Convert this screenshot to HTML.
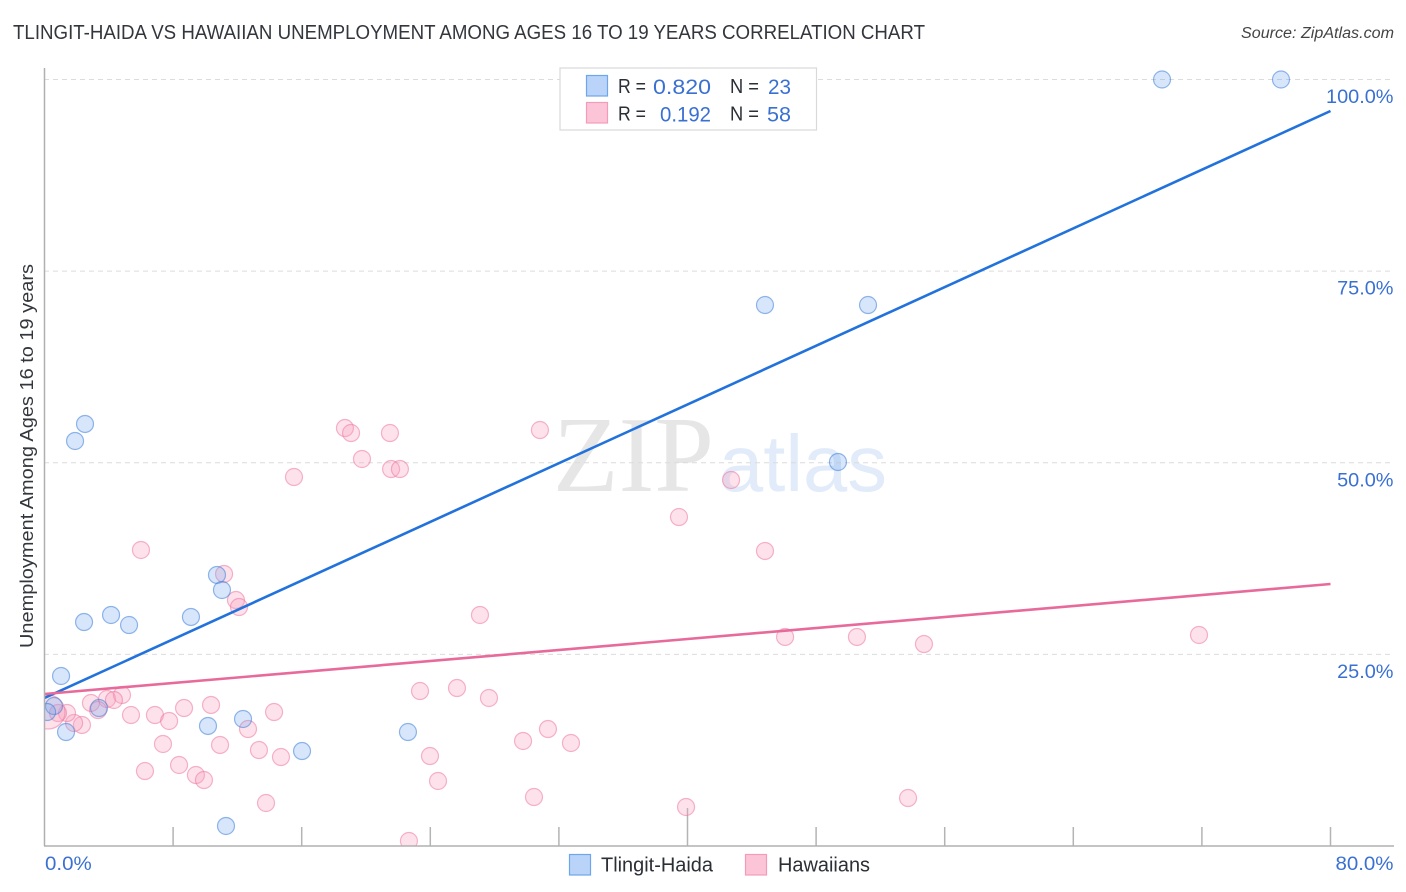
<!DOCTYPE html>
<html>
<head>
<meta charset="utf-8">
<title>Tlingit-Haida vs Hawaiian Unemployment Correlation Chart</title>
<style>
html,body{margin:0;padding:0;background:#fff;width:1406px;height:892px;overflow:hidden}
svg{display:block;font-family:"Liberation Sans",sans-serif}
</style>
</head>
<body>
<svg id="chart" width="1406" height="892" viewBox="0 0 1406 892" xmlns="http://www.w3.org/2000/svg">
  <defs>
    <clipPath id="plot-clip"><rect x="44.5" y="60" width="1362" height="786"/></clipPath>
  </defs>
  <rect width="1406" height="892" fill="#fff"/>
  <text x="13" y="39" font-size="20" fill="#33373d" textLength="912" lengthAdjust="spacingAndGlyphs">TLINGIT-HAIDA VS HAWAIIAN UNEMPLOYMENT AMONG AGES 16 TO 19 YEARS CORRELATION CHART</text>
  <text x="1241" y="38" font-size="15.5" font-style="italic" fill="#444" textLength="153" lengthAdjust="spacingAndGlyphs">Source: ZipAtlas.com</text>
  <g>
    <text x="553" y="491" font-family="'Liberation Serif',serif" font-size="108" fill="#e6e6e6" textLength="161" lengthAdjust="spacingAndGlyphs">ZIP</text>
    <text x="719" y="491" font-size="80" fill="#e1ebf9" textLength="168" lengthAdjust="spacingAndGlyphs">atlas</text>
  </g>
  <g id="grid"></g>
  <g id="x-ticks"></g>
  <g id="points" clip-path="url(#plot-clip)"></g>
  <g id="trends"></g>
  <line x1="44.5" y1="68" x2="44.5" y2="846" stroke="#b0b0b0" stroke-width="1.5"/>
  <line x1="44" y1="846" x2="1394" y2="846" stroke="#b0b0b0" stroke-width="1.5"/>
  <g id="y-labels"></g>
  <g id="x-labels"></g>
  <text transform="translate(33,648) rotate(-90)" font-size="18.5" fill="#33373d" textLength="384" lengthAdjust="spacingAndGlyphs">Unemployment Among Ages 16 to 19 years</text>

  <g>
    <rect x="560" y="68" width="256.5" height="62" fill="#fff" stroke="#d9d9d9" stroke-width="1.2"/>
    <rect x="586.5" y="75.5" width="21" height="20.5" fill="#b9d4f8" stroke="#6fa5ea" stroke-width="1.2"/>
    <rect x="586.5" y="102.5" width="21" height="20.5" fill="#fcc5d7" stroke="#f39cba" stroke-width="1.2"/>
    <g font-size="20.5" fill="#2b2f36">
      <text x="618" y="93" textLength="28" lengthAdjust="spacingAndGlyphs">R =</text>
      <text x="730" y="93" textLength="29" lengthAdjust="spacingAndGlyphs">N =</text>
      <text x="618" y="120.5" textLength="28" lengthAdjust="spacingAndGlyphs">R =</text>
      <text x="730" y="120.5" textLength="29" lengthAdjust="spacingAndGlyphs">N =</text>
    </g>
    <g font-size="21.5" fill="#3a70d2">
      <text x="653" y="94" textLength="58" lengthAdjust="spacingAndGlyphs">0.820</text>
      <text x="768" y="94" textLength="23" lengthAdjust="spacingAndGlyphs">23</text>
      <text x="660" y="121.5" textLength="51" lengthAdjust="spacingAndGlyphs">0.192</text>
      <text x="767" y="121.5" textLength="24" lengthAdjust="spacingAndGlyphs">58</text>
    </g>
  </g>

  <g>
    <rect x="569.5" y="854.5" width="21" height="20.5" fill="#b9d4f8" stroke="#6fa5ea" stroke-width="1.2"/>
    <text x="601" y="871.5" font-size="20" fill="#2b2f36" textLength="112" lengthAdjust="spacingAndGlyphs">Tlingit-Haida</text>
    <rect x="745.5" y="854.5" width="21" height="20.5" fill="#fcc5d7" stroke="#f39cba" stroke-width="1.2"/>
    <text x="778" y="871.5" font-size="20" fill="#2b2f36" textLength="92" lengthAdjust="spacingAndGlyphs">Hawaiians</text>
  </g>
</svg>
<script>
const yTickValues = [25, 50, 75, 100];
const yTickLabels = ["25.0%", "50.0%", "75.0%", "100.0%"];
const xTickValues = [0, 8, 16, 24, 32, 40, 48, 56, 64, 72, 80];
const xEndValues = [0, 80];
const xEndLabels = ["0.0%", "80.0%"];

const tlingitX = [69.52, 76.92, 44.82, 51.23, 49.36, 2.52, 1.90, 10.73, 11.04, 9.11, 4.14, 2.46, 5.26, 1.03, 3.39, 12.35, 10.17, 1.34, 22.61, 16.02, 11.29, 0.59, 0.16];
const tlingitY = [100, 100, 70.58, 70.58, 50.10, 55.06, 52.84, 35.36, 33.40, 29.88, 30.14, 29.22, 28.83, 22.18, 18.00, 16.57, 15.66, 14.87, 14.87, 12.39, 2.61, 18.26, 17.48];

const hawaiianX = [18.69, 19.07, 21.49, 30.82, 19.75, 21.56, 22.11, 15.52, 42.71, 39.47, 6.00, 44.82, 11.17, 11.91, 12.10, 27.09, 46.07, 50.54, 54.71, 71.82, 23.36, 25.66, 27.65, 2.89, 3.89, 4.82, 4.32, 3.33, 5.38, 6.87, 7.75, 8.68, 10.36, 12.66, 14.28, 7.37, 10.92, 13.34, 14.71, 6.25, 8.37, 9.42, 9.92, 13.78, 2.33, 1.84, 1.40, 29.77, 31.32, 32.75, 23.98, 24.48, 30.45, 39.91, 53.72, 22.67, 0.84, 0.22];
const hawaiianY = [54.53, 53.88, 53.88, 54.27, 50.49, 49.18, 49.18, 48.14, 47.75, 42.92, 38.62, 38.49, 35.49, 32.09, 31.18, 30.14, 27.27, 27.27, 26.35, 27.53, 20.22, 20.61, 19.31, 18.66, 19.18, 19.70, 19.05, 17.74, 17.09, 17.09, 16.31, 18.00, 18.40, 15.26, 17.48, 13.31, 13.18, 12.52, 11.61, 9.78, 10.57, 9.26, 8.61, 5.61, 15.79, 16.05, 17.35, 13.70, 15.26, 13.44, 11.74, 8.48, 6.39, 5.09, 6.26, 0.65, 17.35, 17.48];
const hawaiianWeight = [1, 1, 1, 1, 1, 1, 1, 1, 1, 1, 1, 1, 1, 1, 1, 1, 1, 1, 1, 1, 1, 1, 1, 1, 1, 1, 1, 1, 1, 1, 1, 1, 1, 1, 1, 1, 1, 1, 1, 1, 1, 1, 1, 1, 1, 1, 1, 1, 1, 1, 1, 1, 1, 1, 1, 1, 1, 4];

const trendX = [0, 80];
const tlingitTrend = [19.31, 95.89];
const hawaiianTrend = [19.83, 34.18];

const NS = "http://www.w3.org/2000/svg";
function xScale(v) { return 44.5 + v * (1330.5 - 44.5) / 80; }
function yScale(v) { return 846 - v * (846 - 79.5) / 100; }
function make(parent, tag, attrs) {
  const el = document.createElementNS(NS, tag);
  for (const k in attrs) el.setAttribute(k, attrs[k]);
  parent.appendChild(el);
  return el;
}
function widen(el, factor) {
  el.setAttribute("textLength", el.getComputedTextLength() * factor);
  el.setAttribute("lengthAdjust", "spacingAndGlyphs");
}

const gridG = document.getElementById("grid");
yTickValues.forEach(function (v) {
  const el = make(gridG, "line", { x1: 44, x2: 1394, y1: yScale(v), y2: yScale(v), stroke: "#dcdcdc", "stroke-width": 1, "stroke-dasharray": "5 4" });
  
  
});

const tickG = document.getElementById("x-ticks");
xTickValues.forEach(function (v) {
  if (v === 0) return;
  const top = v === 40 ? 808 : 827;
  const el = make(tickG, "line", { x1: xScale(v), x2: xScale(v), y1: top, y2: 846, stroke: "#b4b4b4", "stroke-width": 1.5 });
  
  
});

const yLabG = document.getElementById("y-labels");
yTickValues.forEach(function (v, i) {
  const el = make(yLabG, "text", { x: 1393.5, y: yScale(v) + 23.5, "font-size": 19.5, fill: "#3a70d2", "text-anchor": "end" });
  el.textContent = yTickLabels[i];
  
  
  widen(el, 1.02);
});

const xLabG = document.getElementById("x-labels");
xEndValues.forEach(function (v, i) {
  const el = make(xLabG, "text", { x: i === 0 ? xScale(v) + 0.5 : 1393.5, y: 870, "font-size": 19.5, fill: "#3a70d2", "text-anchor": i === 0 ? "start" : "end" });
  el.textContent = xEndLabels[i];
  
  
  widen(el, 1.05);
});

const pointsG = document.getElementById("points");
hawaiianX.forEach(function (v, i) {
  const el = make(pointsG, "circle", { cx: xScale(v), cy: yScale(hawaiianY[i]), r: 8.5 * Math.sqrt(hawaiianWeight[i]), fill: "rgba(248,160,190,0.3)", stroke: "rgba(236,120,160,0.55)", "stroke-width": 1.2 });
  
  
});
tlingitX.forEach(function (v, i) {
  const el = make(pointsG, "circle", { cx: xScale(v), cy: yScale(tlingitY[i]), r: 8.5, fill: "rgba(110,165,240,0.28)", stroke: "rgba(60,125,215,0.55)", "stroke-width": 1.2 });
  
  
});

const trendG = document.getElementById("trends");
const blueLine = make(trendG, "line", { x1: xScale(trendX[0]), y1: yScale(tlingitTrend[0]), x2: xScale(trendX[1]), y2: yScale(tlingitTrend[1]), stroke: "#2272dc", "stroke-width": 2.6 });


const pinkLine = make(trendG, "line", { x1: xScale(trendX[0]), y1: yScale(hawaiianTrend[0]), x2: xScale(trendX[1]), y2: yScale(hawaiianTrend[1]), stroke: "#e86a9b", "stroke-width": 2.6 });


</script>
</body>
</html>
